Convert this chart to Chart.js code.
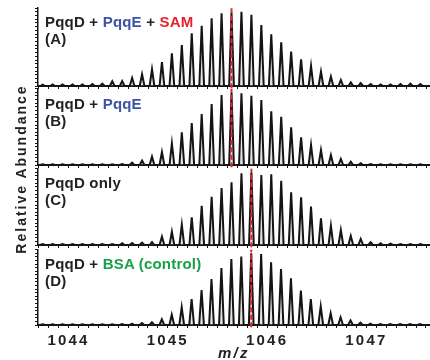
<!DOCTYPE html>
<html><head><meta charset="utf-8">
<script src="https://cdn.jsdelivr.net/npm/chart.js@4.4.1/dist/chart.umd.min.js"></script>
<style>
html,body{margin:0;padding:0;background:#fff;}
#wrap{position:relative;width:430px;height:360px;overflow:hidden;background:#fff;font-family:"Liberation Sans",Arial,sans-serif;}
canvas{position:absolute;left:0;top:0;}
.lab{position:absolute;left:45px;font-weight:bold;font-size:15px;line-height:17px;color:#232323;white-space:nowrap;letter-spacing:0.2px;}
.blue{color:#3d53a8}.red{color:#e8222c}.green{color:#17a04b}
#ytitle{position:absolute;width:220px;height:16px;line-height:16px;left:-89px;top:160.5px;text-align:center;transform:rotate(-90deg);font-weight:bold;font-size:14px;letter-spacing:2px;color:#232323;white-space:nowrap;}
</style></head>
<body>
<div id="wrap">
  <canvas id="cA" width="430" height="372"></canvas>
  <canvas id="cB" width="430" height="372"></canvas>
  <canvas id="cC" width="430" height="372"></canvas>
  <canvas id="cD" width="430" height="372"></canvas>
  <div class="lab" style="top:12.8px">PqqD + <span class="blue">PqqE</span> + <span class="red">SAM</span><br>(A)</div>
  <div class="lab" style="top:95.3px">PqqD + <span class="blue">PqqE</span><br>(B)</div>
  <div class="lab" style="top:173.8px">PqqD only<br>(C)</div>
  <div class="lab" style="top:255.3px">PqqD + <span class="green">BSA (control)</span><br>(D)</div>
  <div id="ytitle">Relative Abundance</div>
</div>
<script>
// isotope peak positions (m/z)
const peakMz = [1043.74,1043.84,1043.94,1044.04,1044.14,1044.24,1044.34,1044.44,1044.54,1044.64,
  1044.74,1044.84,1044.94,1045.04,1045.14,1045.24,1045.34,1045.44,1045.54,1045.64,
  1045.74,1045.84,1045.94,1046.04,1046.14,1046.24,1046.34,1046.44,1046.54,1046.64,
  1046.74,1046.84,1046.94,1047.04,1047.14,1047.24,1047.34,1047.44,1047.54];
// relative abundances per panel
const panelA = [1.8,2.2,2.2,2.2,2.2,2.7,3.1,6.3,6.7,10.8,15.7,22.4,32.3,43.9,55.2,70.9,81.2,91,97.8,98.7,
  100,96,82,69.5,58.7,46.2,35.9,26.9,19.3,12.6,8.1,4.9,4,2.7,2.2,2.2,2.7,3.1,2.7];
const panelB = [1,1,1,1,1,1,1,1,1.4,3.2,6,11.5,17.9,29.8,45,57.8,70.2,84,96.3,100,
  98.6,95.4,89.4,73.9,66.5,51.8,38,27.5,20.6,13.8,8.3,4.6,2.3,1.4,1,1,1,1,1];
const panelC = [1.4,1.4,1.4,1.4,1.4,1.4,1.4,1.4,2.3,2.8,3.2,4.1,11.5,18.3,28,38,54,66.5,78.4,86.2,
  98.6,100,96.3,97.2,88.5,72.5,65.6,52.8,36.7,26.6,20.6,12.4,8.3,3.7,2.3,1.8,1.4,1.4,1.4];
const panelD = [1,1,1,1,1,1,1,1,1.4,1.9,2.8,3.7,7.9,14.4,24.7,36.3,48.8,64.2,79.5,92.1,
  95.3,100,99,87.4,78.1,65.1,47.9,36.3,26,16.3,10.7,6.5,3.3,1.9,1.2,1.2,1.2,1.2,1.2];
// reference (dashed) lines
const refLineAB = 1045.64;
const refLineCD = 1045.84;
// x tick labels
const xMajorLabels = [1044, 1045, 1046, 1047];

const X_MIN = 1043.693, X_MAX = 1047.637, Y_MAX = 105;
const PEAK_HALF = 0.024;
const CANVAS_H = 372;
const FONT = '"Liberation Sans", Arial, sans-serif';
const INK = '#141414';

function peakProfile(heights){
  const pts = [];
  peakMz.forEach((m,i)=>{ pts.push({x:m-PEAK_HALF,y:0},{x:m,y:heights[i]},{x:m+PEAK_HALF,y:0}); });
  return pts;
}

const spacingPlugin = {
  id:'letterSpacing',
  beforeDraw(chart){ chart.ctx.letterSpacing = '2.2px'; },
  afterDraw(chart){ chart.ctx.letterSpacing = '0px'; }
};

const panels = [
  {id:'cA', h:panelA, ref:refLineAB, top:8,     base:86,  last:false},
  {id:'cB', h:panelB, ref:refLineAB, top:88.7,  base:165, last:false},
  {id:'cC', h:panelC, ref:refLineCD, top:168.7, base:245, last:false},
  {id:'cD', h:panelD, ref:refLineCD, top:249.7, base:325, last:true}
];

panels.forEach(p=>{
  const xAxisH = p.last ? CANVAS_H - p.base : 4;
  new Chart(document.getElementById(p.id), {
    type:'line',
    data:{datasets:[
      {data:[{x:p.ref,y:-3},{x:p.ref,y:Y_MAX}], borderColor:'#e3262e', borderWidth:2, borderDash:[5,2.5],
       pointRadius:0, fill:false, clip:false},
      {data:peakProfile(p.h), borderColor:INK, borderWidth:2, pointRadius:0, tension:0,
       fill:'origin', backgroundColor:'rgba(175,175,175,0.35)'}
    ]},
    options:{
      responsive:false, animation:false, events:[],
      layout:{padding:{top:p.top, bottom:CANVAS_H - p.base - xAxisH, left:0, right:0}},
      plugins:{legend:{display:false}, tooltip:{enabled:false}},
      scales:{
        x:{type:'linear', min:X_MIN, max:X_MAX,
          afterBuildTicks(s){ const t=[]; for(let k=10437;k<=10476;k++) t.push({value:k/10}); s.ticks=t; },
          afterFit(s){ s.height = xAxisH; },
          ticks:{display:p.last, autoSkip:false, maxRotation:0, minRotation:0, padding:4,
            callback:(v)=> xMajorLabels.includes(v) ? String(v) : '',
            font:{family:FONT, size:15, weight:'bold'}, color:'#232323'},
          grid:{drawOnChartArea:false, drawTicks:true, tickLength:3, color:INK, lineWidth:1},
          border:{display:true, color:INK, width:2},
          title:{display:p.last, text:'m/z', color:'#232323',
            font:{family:FONT, size:15, weight:'bold', style:'italic'}, padding:{top:0,bottom:9}}
        },
        y:{min:0, max:Y_MAX,
          afterFit(s){ s.width = 38; },
          ticks:{display:false, stepSize:5},
          grid:{drawOnChartArea:false, drawTicks:true, tickLength:3, color:INK, lineWidth:1},
          border:{display:true, color:INK, width:1.5}
        }
      }
    },
    plugins:[spacingPlugin]
  });
});
</script>
</body></html>
